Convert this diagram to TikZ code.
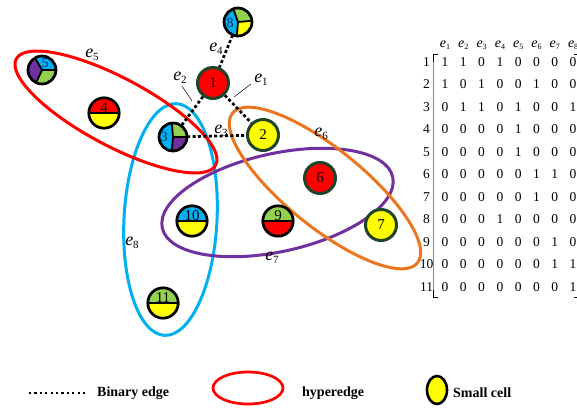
\documentclass[tikz,border=0pt]{standalone}
\usepackage{fontspec}
\setmainfont{Liberation Serif}
\usetikzlibrary{shapes.geometric}

\definecolor{cred}{RGB}{255,0,0}
\definecolor{cyellow}{RGB}{255,255,0}
\definecolor{cgreen}{RGB}{146,208,80}
\definecolor{cblue}{RGB}{0,176,240}
\definecolor{cpurple}{RGB}{112,48,160}
\definecolor{corange}{RGB}{234,118,32}
\definecolor{cdkgreen}{RGB}{32,68,40}
\definecolor{cnavy}{RGB}{10,40,95}
\definecolor{cbracket}{RGB}{90,150,210}

% radii of the rim paths of the two kinds of multi-colour cells
\newcommand\cellr{14.0}
\newcommand\halfr{15.2}

% edge label: italic e with a lowered index
\newcommand\elab[1]{{\fontsize{18}{18}\selectfont\itshape e}\raisebox{-3.5pt}{\fontsize{11}{11}\selectfont #1}}
\newcommand\ehead[1]{{\fontsize{14}{14}\selectfont\itshape e}\raisebox{-2.5pt}{\fontsize{8}{8}\selectfont #1}}

\tikzset{
  cell/.style={circle, draw=cdkgreen, line width=3pt, minimum size=31pt,
    inner sep=0pt, font=\fontsize{15}{15}\selectfont},
  cellshape/.style={circle, minimum size=28pt, inner sep=0pt},
  hcellshape/.style={circle, minimum size=30.4pt, inner sep=0pt},
  rim/.style={line width=2.7pt, black},
  divider/.style={line width=1.8pt, black},
  numtxt/.style={inner sep=0pt, font=\fontsize{15}{15}\selectfont},
  trinum/.style={inner sep=0pt, text=cnavy, font=\fontsize{14}{14}\selectfont},
  binedge/.style={black, line width=2.7pt, dash pattern=on 3pt off 2.4pt},
  leader/.style={black, line width=0.5pt},
  hyper/.style={line width=3pt},
  elabel/.style={inner sep=0pt},
  mtx/.style={inner sep=0pt, font=\fontsize{13.5}{13.5}\selectfont},
  legtxt/.style={inner sep=0pt, anchor=west, font=\fontsize{14}{14}\selectfont\bfseries},
}

% cell split into three coloured sectors: name, position, three rim angles, three colours
\newcommand\tricell[8]{%
  \node[cellshape] (#1) at (#2) {};
  \fill[#6] (#1.center) -- ++(-#3:\cellr) arc[start angle=-#3, end angle=-#4, radius=\cellr] -- cycle;
  \fill[#7] (#1.center) -- ++(-#4:\cellr) arc[start angle=-#4, end angle=-#5, radius=\cellr] -- cycle;
  \pgfmathsetmacro\tmpend{#3+360}%
  \fill[#8] (#1.center) -- ++(-#5:\cellr) arc[start angle=-#5, end angle=-\tmpend, radius=\cellr] -- cycle;
  \draw[divider] (#1.center) -- ++(-#3:\cellr) (#1.center) -- ++(-#4:\cellr) (#1.center) -- ++(-#5:\cellr);
  \draw[rim] (#1.center) circle[radius=\cellr];
}

% cell split into an upper and a lower half: name, position, top colour, bottom colour, number
\newcommand\halfcell[5]{%
  \node[hcellshape] (#1) at (#2) {};
  \fill[#3] (#1.center) ++(\halfr,0) arc[start angle=0, end angle=-180, radius=\halfr] -- cycle;
  \fill[#4] (#1.center) ++(\halfr,0) arc[start angle=0, end angle=180, radius=\halfr] -- cycle;
  \draw[divider] (#1.center) ++(-\halfr,0) -- ++(2*\halfr,0);
  \draw[rim] (#1.center) circle[radius=\halfr];
  \node[numtxt, anchor=base] (#1-t) at ([yshift=0.8pt]#1.center) {#5};
}

\begin{document}
\begin{tikzpicture}[x=1pt, y=-1pt]
\useasboundingbox (0,0) rectangle (577,419);

% ---- hyperedges ----
\draw[hyper, draw=cblue, rotate around={-3:(170.5,219.5)}] (170.5,219.5) ellipse [x radius=46.5, y radius=116];
\draw[hyper, draw=cpurple, rotate around={12.5:(277.5,202.5)}] (277.5,202.5) ellipse [x radius=118, y radius=49];
\draw[hyper, draw=corange, rotate around={-39:(325,188)}] (325,188) ellipse [x radius=119, y radius=39];
\draw[hyper, draw=cred, rotate around={-28:(116,112)}] (116,112) ellipse [x radius=113, y radius=34];

% ---- cells ----
\node[cell, fill=cred] (n1) at (213,83) {1};
\node[cell, fill=cyellow] (n2) at (263,135) {2};
\node[cell, fill=cred] (n6) at (320,178) {6};
\node[cell, fill=cyellow] (n7) at (381,225) {7};

\tricell{n3}{173,137}{0}{95}{265}{cgreen}{cblue}{cpurple}
\tricell{n5}{42,70}{0}{120}{245}{cblue}{cpurple}{cgreen}
\tricell{n8}{238,22}{5}{110}{265}{cgreen}{cblue}{cyellow}
\node[trinum] (n3-t) at (164,137) {3};
\node[trinum] (n5-t) at (45,63) {5};
\node[trinum] (n8-t) at (230,23) {8};

\halfcell{n4}{104,113}{cred}{cyellow}{4}
\halfcell{n9}{278,221}{cgreen}{cred}{9}
\halfcell{n10}{192,221}{cblue}{cyellow}{10}
\halfcell{n11}{163,303}{cgreen}{cyellow}{11}

% ---- binary edges ----
\draw[binedge] (n8) -- (n1);
\draw[binedge] (n1) -- (n3);
\draw[binedge] (n1) -- (n2);
\draw[binedge] (n3) -- (n2);

% ---- edge labels ----
\node[elabel] (le1) at (261,80) {\elab{1}};
\node[elabel] (le2) at (180,78) {\elab{2}};
\node[elabel] (le3) at (221,131) {\elab{3}};
\node[elabel] (le4) at (216,49) {\elab{4}};
\node[elabel] (le5) at (92,55) {\elab{5}};
\node[elabel] (le6) at (321,134) {\elab{6}};
\node[elabel] (le7) at (272,258) {\elab{7}};
\node[elabel] (le8) at (132,243) {\elab{8}};
\coordinate (k1) at (234,97);
\coordinate (k2) at (192,101);
\draw[leader] (251,84) -- (k1);
\draw[leader] (182,86) -- (k2);

% ---- incidence matrix ----
\foreach \j in {1,...,8} {
  \node[mtx] (h\j) at (445+18.3*\j-18.3,45) {\ehead{\j}};
}
\foreach \row [count=\i] in {
  {1,1,0,1,0,0,0,0},
  {1,0,1,0,0,1,0,0},
  {0,1,1,0,1,0,0,1},
  {0,0,0,0,1,0,0,0},
  {0,0,0,0,1,0,0,0},
  {0,0,0,0,0,1,1,0},
  {0,0,0,0,0,1,0,0},
  {0,0,0,1,0,0,0,0},
  {0,0,0,0,0,0,1,0},
  {0,0,0,0,0,0,1,1},
  {0,0,0,0,0,0,0,1}} {
  \node[mtx] (r\i) at (426.5,61.7+22.5*\i-22.5) {\i};
  \foreach \v [count=\j] in \row {
    \node[mtx] (m\i-\j) at (445+18.3*\j-18.3,61.7+22.5*\i-22.5) {\v};
  }
}
% brackets
\draw[cbracket, line width=0.9pt] (433.3,57) -- (433.3,295);
\draw[black, line width=0.9pt] (438,54) -- (433.3,54) -- (433.3,62);
\draw[black, line width=0.9pt] (438,297) -- (433.3,297) -- (433.3,290);
\draw[black, line width=0.9pt] (574,54) -- (578,54) -- (578,297) -- (574,297);

% ---- legend ----
\coordinate (lgA) at (29,393);
\coordinate (lgB) at (88,393);
\draw[black, line width=2.2pt, dash pattern=on 2.2pt off 3.2pt] (lgA) -- (lgB);
\node[legtxt] (lg1) at (97,393) {Binary edge};
\node[ellipse, draw=cred, line width=2.7pt, minimum width=70pt, minimum height=32pt, inner sep=0pt] (lgE) at (248,388) {};
\node[legtxt] (lg2) at (302,393) {hyperedge};
\node[ellipse, draw=black, fill=cyellow, line width=2.6pt, minimum width=20pt, minimum height=28pt, inner sep=0pt] (lgC) at (437,390) {};
\node[legtxt] (lg3) at (453,393) {Small cell};
\end{tikzpicture}
\end{document}
